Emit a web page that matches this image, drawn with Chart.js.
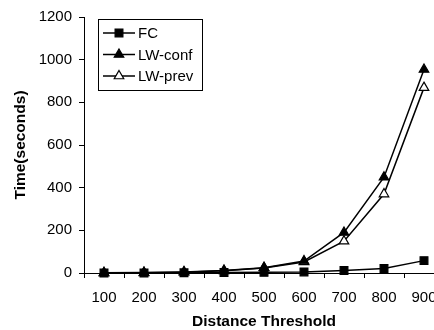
<!DOCTYPE html>
<html>
<head>
<meta charset="utf-8">
<script src="https://cdn.jsdelivr.net/npm/chart.js@4"></script>
<style>
  html, body { margin: 0; padding: 0; background: #fff; overflow: hidden; }
  #wrap { width: 444px; height: 330px; }
  #chart { display: block; width: 444px; height: 330px; }
</style>
</head>
<body>
<div id="wrap"><canvas id="chart" width="444" height="330"></canvas></div>
<script>
// valores
const thresholds = ['100', '200', '300', '400', '500', '600', '700', '800', '900'];
const fcTimes = [0, 0, 1, 2, 3, 5, 12, 21, 58];
const lwConfTimes = [1, 2, 5, 12, 25, 56, 190, 449, 954];
const lwPrevTimes = [0, 1, 4, 10, 24, 52, 149, 370, 869];
const yTicks = [0, 200, 400, 600, 800, 1000, 1200];

const FONT = '"Liberation Sans", Arial, sans-serif';

// legenda desenhada dentro da área do gráfico (linha + marcador)
const boxLegend = {
    id: 'boxLegend',
    afterDraw(chart) {
        const ctx = chart.ctx;
        const x0 = 98, y0 = 19, w = 104, h = 71;
        ctx.save();
        ctx.fillStyle = '#fff';
        ctx.fillRect(x0, y0, w, h);
        ctx.strokeStyle = '#000';
        ctx.lineWidth = 1;
        ctx.strokeRect(x0 + 0.5, y0 + 0.5, w, h);
        chart.data.datasets.forEach((ds, i) => {
            const y = 33 + i * 21.5;
            ctx.beginPath();
            ctx.moveTo(103, y);
            ctx.lineTo(135, y);
            ctx.strokeStyle = '#000';
            ctx.lineWidth = 1.5;
            ctx.stroke();
            ctx.fillStyle = ds.pointBackgroundColor;
            ctx.strokeStyle = '#000';
            ctx.lineWidth = 1.2;
            Chart.helpers.drawPoint(ctx, {
                pointStyle: ds.pointStyle,
                radius: ds.pointRadius,
                borderWidth: 1.2,
                rotation: 0
            }, 119, y);
            ctx.fillStyle = '#000';
            ctx.font = '15px ' + FONT;
            ctx.textBaseline = 'middle';
            ctx.textAlign = 'left';
            ctx.fillText(ds.label, 138, y + 1);
        });
        ctx.restore();
    }
};

function serie(label, data, style, fill, radius) {
    return {
        label: label,
        data: data,
        borderColor: '#000',
        borderWidth: 1.5,
        pointStyle: style,
        pointRadius: radius,
        pointBackgroundColor: fill,
        pointBorderColor: '#000',
        pointBorderWidth: 1.2,
        tension: 0,
        fill: false,
        clip: false
    };
}

new Chart(document.getElementById('chart'), {
    type: 'line',
    data: {
        labels: thresholds,
        datasets: [
            serie('FC', fcTimes, 'rect', '#000', 5.5),
            serie('LW-conf', lwConfTimes, 'triangle', '#000', 5.5),
            serie('LW-prev', lwPrevTimes, 'triangle', '#fff', 5.5)
        ]
    },
    options: {
        responsive: false,
        animation: false,
        layout: { autoPadding: false, padding: { top: 17, left: 0, right: 0, bottom: 0 } },
        plugins: {
            legend: { display: false },
            tooltip: { enabled: false }
        },
        scales: {
            x: {
                offset: true,
                grid: {
                    offset: true,
                    drawOnChartArea: false,
                    drawTicks: true,
                    tickLength: 5,
                    color: '#000'
                },
                border: { color: '#000', width: 1 },
                ticks: {
                    color: '#000',
                    font: { family: FONT, size: 15 },
                    padding: 11,
                    maxRotation: 0,
                    autoSkip: false
                },
                title: {
                    display: true,
                    text: 'Distance Threshold',
                    color: '#000',
                    font: { family: FONT, size: 15.5, weight: 'bold' },
                    padding: { top: 6, bottom: -1 }
                },
                afterFit: s => {
                    s.height = 57;
                    s.paddingLeft = 0;
                    s.paddingRight = 0;
                }
            },
            y: {
                min: 0,
                max: 1200,
                afterBuildTicks: s => { s.ticks = yTicks.map(v => ({ value: v })); },
                grid: {
                    drawOnChartArea: false,
                    drawTicks: true,
                    tickLength: 5,
                    color: '#000'
                },
                border: { color: '#000', width: 1 },
                ticks: {
                    color: '#000',
                    font: { family: FONT, size: 15 },
                    padding: 7,
                    callback: v => String(v)
                },
                title: {
                    display: true,
                    text: 'Time(seconds)',
                    color: '#000',
                    font: { family: FONT, size: 15.5, weight: 'bold' },
                    padding: { top: 11, bottom: 0 }
                },
                afterFit: s => { s.width = 84; }
            }
        }
    },
    plugins: [boxLegend]
});
</script>
</body>
</html>
